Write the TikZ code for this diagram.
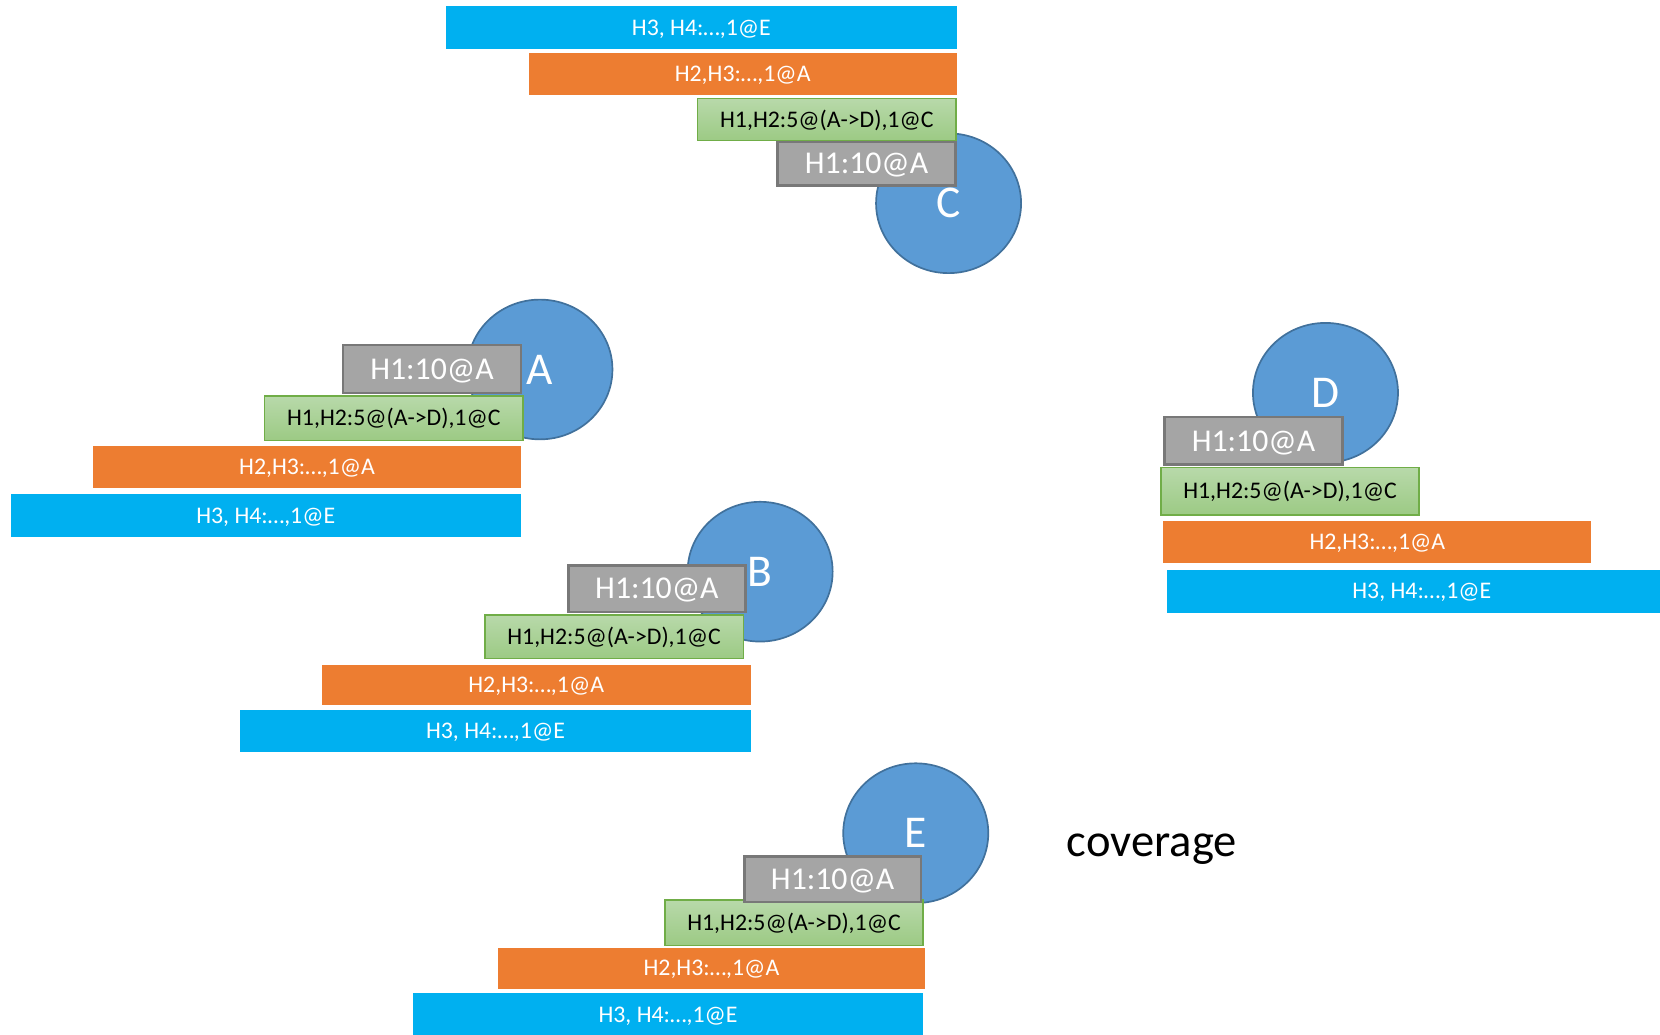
\documentclass[tikz,border=0pt]{standalone}
\usepackage{fontspec}
\setmainfont{Carlito}
\usetikzlibrary{shapes.geometric}

\definecolor{barblue}{HTML}{00B0F0}
\definecolor{barorange}{HTML}{ED7D31}
\definecolor{greentop}{HTML}{B8D9AA}
\definecolor{greenbot}{HTML}{9CCA84}
\definecolor{greenline}{HTML}{70AD47}
\definecolor{boxgray}{HTML}{A5A5A5}
\definecolor{grayline}{HTML}{787878}
\definecolor{nodeblue}{HTML}{5B9BD5}
\definecolor{nodeline}{HTML}{41719C}

\tikzset{
  bar/.style={rectangle, inner sep=0pt, outer sep=0pt,
    font=\fontsize{22.5}{26}\selectfont, text height=14.5pt, text depth=0pt},
  bluebar/.style={bar, fill=barblue, text=white, minimum width=482, minimum height=40},
  orangebar/.style={bar, fill=barorange, text=white, minimum width=404, minimum height=39},
  greenbar/.style={bar, top color=greentop, bottom color=greenbot, draw=greenline,
    line width=1.3pt, text=black, minimum width=244, minimum height=42},
  graybox/.style={rectangle, inner sep=0pt, fill=boxgray, draw=grayline, line width=2.4pt,
    text=white, minimum width=168, minimum height=43,
    font=\fontsize{30}{35}\selectfont, text height=19.3pt, text depth=0pt},
  hostnode/.style={ellipse, inner sep=0pt, fill=nodeblue, draw=nodeline, line width=1.6pt,
    text=white, minimum width=137, minimum height=132,
    font=\fontsize{43}{50}\selectfont, text height=27.7pt, text depth=0pt},
}

\begin{document}
\begin{tikzpicture}[x=1pt, y=-1pt]
  \useasboundingbox (0,0) rectangle (1568,977);

  % the five hosts
  \node[hostnode] (C) at (896,192) {C};
  \node[hostnode] (A) at (510,349) {A};
  \node[hostnode] (B) at (718,540) {B};
  \node[hostnode] (D) at (1252,371) {D};
  \node[hostnode] (E) at (865,787) {E};

  % stack at C
  \node[bluebar, minimum height=41] (cblue) at (662.5,26) {H3, H4:…,1@E};
  \node[orangebar] (corange) at (701.5,70) {H2,H3:…,1@A};
  \node[greenbar, minimum height=40] (cgreen) at (781,113) {H1,H2:5@(A->D),1@C};
  \node[graybox, minimum height=41] (cgray) at (818.5,154.5) {H1:10@A};

  % stack at A
  \node[bluebar] (ablue) at (251,487) {H3, H4:…,1@E};
  \node[orangebar, minimum height=40] (aorange) at (290,441) {H2,H3:…,1@A};
  \node[greenbar] (agreen) at (372,395) {H1,H2:5@(A->D),1@C};
  \node[graybox, minimum height=45] (agray) at (408,348.5) {H1:10@A};

  % stack at B
  \node[bluebar, minimum height=39] (bblue) at (468,690.5) {H3, H4:…,1@E};
  \node[orangebar, minimum width=405, minimum height=38] (borange) at (506.5,647) {H2,H3:…,1@A};
  \node[greenbar, minimum height=41] (bgreen) at (580,601.5) {H1,H2:5@(A->D),1@C};
  \node[graybox, minimum width=167, minimum height=44] (bgray) at (620.5,556) {H1:10@A};

  % stack at D
  \node[bluebar, minimum height=41] (dblue) at (1343,558.5) {H3, H4:…,1@E};
  \node[orangebar, minimum height=40] (dorange) at (1301,512) {H2,H3:…,1@A};
  \node[greenbar, minimum height=45] (dgreen) at (1218.5,464) {H1,H2:5@(A->D),1@C};
  \node[graybox, minimum height=45] (dgray) at (1184,416.5) {H1:10@A};

  % stack at E
  \node[bluebar, minimum height=42] (eblue) at (631,959) {H3, H4:…,1@E};
  \node[orangebar] (eorange) at (672,914.5) {H2,H3:…,1@A};
  \node[greenbar, minimum height=43] (egreen) at (750,871.5) {H1,H2:5@(A->D),1@C};
  \node[graybox, minimum width=167] (egray) at (786.5,830.5) {H1:10@A};

  % caption
  \node[anchor=base, inner sep=0pt, font=\fontsize{44}{52}\selectfont] (caption) at (1088,809) {coverage};
\end{tikzpicture}
\end{document}
